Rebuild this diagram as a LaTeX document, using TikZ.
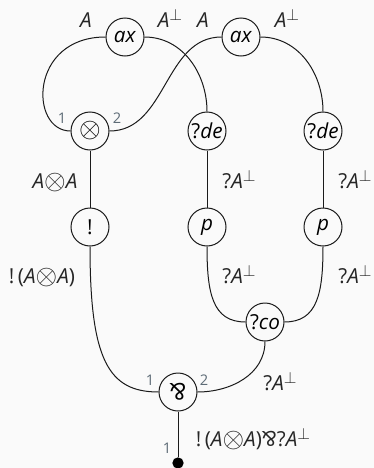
\documentclass[tikz,border=0pt]{standalone}
\usepackage{fontspec}
\setmainfont{Open Sans}
\usetikzlibrary{positioning}
\definecolor{bgpaper}{HTML}{FAFAFA}
\definecolor{wireink}{HTML}{1A1A1A}
\definecolor{portgray}{HTML}{5D6B76}

% formula pieces
\newcommand{\fA}{\textit{A}}
\newcommand{\fAp}{\textit{A}\raisebox{0.62ex}{\scalebox{0.85}{$\perp$}}}
\newcommand{\Tsym}{\raisebox{-0.1ex}{\scalebox{1.45}{$\otimes$}}}
\newcommand{\Psym}[1][1]{\scalebox{#1}{\rotatebox[origin=c]{180}{$\&$}}}

\begin{document}
\begin{tikzpicture}[x=0.75pt, y=-0.75pt,
    cell/.style={circle, draw=wireink, line width=0.75pt, fill=bgpaper, minimum size=28.5pt, inner sep=0pt, font=\fontsize{15.5}{18}\selectfont},
    wire/.style={draw=wireink, line width=0.75pt},
    lab/.style={anchor=base, inner sep=0pt, text=black!85, font=\fontsize{15.5}{18}\selectfont},
    port/.style={anchor=base, inner sep=0pt, text=portgray, font=\fontsize{11}{13}\selectfont}
]
\fill[bgpaper] (0,0) rectangle (374,468);
\useasboundingbox (0,0) rectangle (374,468);

% Cells
\node[cell] (ax1) at (125,37) {\textit{ax}};
\node[cell] (ax2) at (241,37) {\textit{ax}};
\node[cell] (tensor) at (90,131) {\Tsym};
\node[cell] (de1) at (207,131) {?\textit{de}};
\node[cell] (de2) at (323,131) {?\textit{de}};
\node[cell] (bang) at (90,227) {!};
\node[cell] (p1) at (207,227) {\textit{p}};
\node[cell] (p2) at (323,227) {\textit{p}};
\node[cell] (co) at (265,322) {?\textit{co}};
\node[cell] (par) at (178,392) {\Psym[1.12]};
\node[circle, fill=black, inner sep=0pt, minimum size=8.5pt] (root) at (178,463) {};

% Wires
\draw[wire] (ax1.west) to[out=180, in=180, out looseness=1.95, in looseness=1.05] (tensor.west);
\draw[wire] (ax1.east) to[out=0, in=90] (de1.north);
\draw[wire] (ax2.west) to[out=180, in=0] (tensor.east);
\draw[wire] (ax2.east) to[out=0, in=90] (de2.north);
\draw[wire] (tensor) -- (bang);
\draw[wire] (de1) -- (p1);
\draw[wire] (de2) -- (p2);
\draw[wire] (bang.south) to[out=-90, in=180, out looseness=1.8, in looseness=0.8] (par.west);
\draw[wire] (p1.south) to[out=-90, in=180, out looseness=1.4] (co.west);
\draw[wire] (p2.south) to[out=-90, in=0, out looseness=1.4] (co.east);
\draw[wire] (co.south) to[out=-90, in=0] (par.east);
\draw[wire] (par) -- (root);

% Formulas
\node[lab] (f1) at (86,27) {\fA};
\node[lab] (f2) at (170,27) {\fAp};
\node[lab] (f3) at (203,27) {\fA};
\node[lab] (f4) at (287,27) {\fAp};
\node[lab] (f5) at (55,188) {\fA\Tsym\fA};
\node[lab] (f6) at (239,188) {?\fAp};
\node[lab] (f7) at (355,188) {?\fAp};
\node[lab] (f8) at (42,283) {!\,(\fA\Tsym\fA)};
\node[lab] (f9) at (239,283) {?\fAp};
\node[lab] (f10) at (355,283) {?\fAp};
\node[lab] (f11) at (280,390) {?\fAp};
\node[lab] (f12) at (253,446) {!\,(\fA\Tsym\fA)\Psym?\fAp};

% Ports
\node[port] (t1) at (62,123) {1};
\node[port] (t2) at (117,123) {2};
\node[port] (q1) at (150,385) {1};
\node[port] (q2) at (204,385) {2};
\node[port] (r1) at (167,453) {1};

\end{tikzpicture}
\end{document}
